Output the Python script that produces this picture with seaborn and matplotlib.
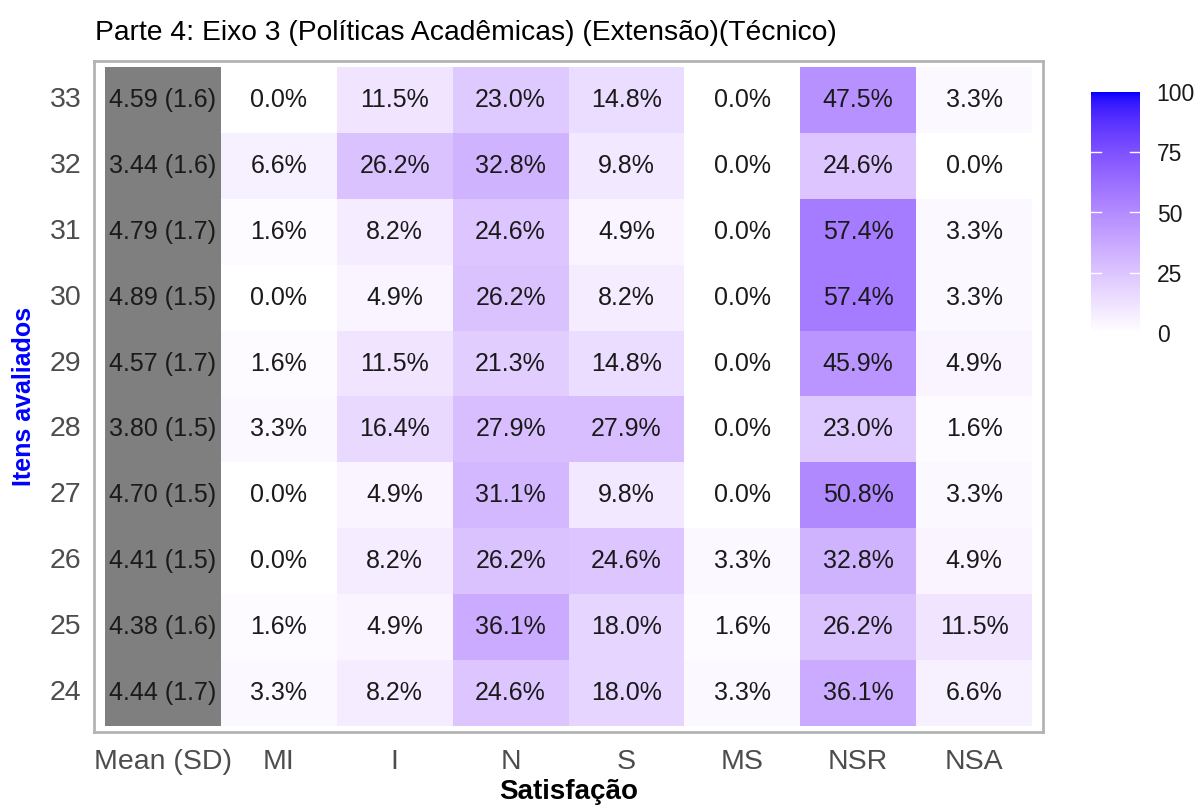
import numpy as np
import pandas as pd
import matplotlib
matplotlib.use("Agg")
import matplotlib.pyplot as plt
from matplotlib.colors import ListedColormap
import seaborn as sns

items = ["33", "32", "31", "30", "29", "28", "27", "26", "25", "24"]
categories = ["MI", "I", "N", "S", "MS", "NSR", "NSA"]
mean_sd = ["4.59 (1.6)", "3.44 (1.6)", "4.79 (1.7)", "4.89 (1.5)", "4.57 (1.7)",
           "3.80 (1.5)", "4.70 (1.5)", "4.41 (1.5)", "4.38 (1.6)", "4.44 (1.7)"]
MI = [0.0, 6.6, 1.6, 0.0, 1.6, 3.3, 0.0, 0.0, 1.6, 3.3]
I = [11.5, 26.2, 8.2, 4.9, 11.5, 16.4, 4.9, 8.2, 4.9, 8.2]
N = [23.0, 32.8, 24.6, 26.2, 21.3, 27.9, 31.1, 26.2, 36.1, 24.6]
S = [14.8, 9.8, 4.9, 8.2, 14.8, 27.9, 9.8, 24.6, 18.0, 18.0]
MS = [0.0, 0.0, 0.0, 0.0, 0.0, 0.0, 0.0, 3.3, 1.6, 3.3]
NSR = [47.5, 24.6, 57.4, 57.4, 45.9, 23.0, 50.8, 32.8, 26.2, 36.1]
NSA = [3.3, 0.0, 3.3, 3.3, 4.9, 1.6, 3.3, 4.9, 11.5, 6.6]

title = "Parte 4: Eixo 3 (Políticas Acadêmicas) (Extensão)(Técnico)"
xlabel = "Satisfação"
ylabel = "Itens avaliados"

# ---- Lab-interpolated white -> blue colormap (like ggplot2 scale_fill_gradient)
def srgb_to_lab(rgb):
    rgb = np.asarray(rgb, float)
    lin = np.where(rgb <= 0.04045, rgb / 12.92, ((rgb + 0.055) / 1.055) ** 2.4)
    M = np.array([[0.4124564, 0.3575761, 0.1804375],
                  [0.2126729, 0.7151522, 0.0721750],
                  [0.0193339, 0.1191920, 0.9503041]])
    xyz = M @ lin
    wp = np.array([0.95047, 1.0, 1.08883])
    t = xyz / wp
    f = np.where(t > (6 / 29) ** 3, np.cbrt(t), t / (3 * (6 / 29) ** 2) + 4 / 29)
    return np.array([116 * f[1] - 16, 500 * (f[0] - f[1]), 200 * (f[1] - f[2])])

def lab_to_srgb(lab):
    L, a, b = lab
    fy = (L + 16) / 116
    fx = fy + a / 500
    fz = fy - b / 200
    def finv(f):
        return np.where(f > 6 / 29, f ** 3, 3 * (6 / 29) ** 2 * (f - 4 / 29))
    wp = np.array([0.95047, 1.0, 1.08883])
    xyz = np.array([finv(fx), finv(fy), finv(fz)]) * wp
    Minv = np.array([[3.2404542, -1.5371385, -0.4985314],
                     [-0.9692660, 1.8760108, 0.0415560],
                     [0.0556434, -0.2040259, 1.0572252]])
    lin = Minv @ xyz
    lin = np.clip(lin, 0, 1)
    rgb = np.where(lin <= 0.0031308, 12.92 * lin, 1.055 * lin ** (1 / 2.4) - 0.055)
    return np.clip(rgb, 0, 1)

lab_w = srgb_to_lab([1, 1, 1])
lab_b = srgb_to_lab([0, 0, 1])
cols = [lab_to_srgb(lab_w + (lab_b - lab_w) * t) for t in np.linspace(0, 1, 256)]
cmap = ListedColormap(cols)

# ---- data frame
pct = pd.DataFrame({"MI": MI, "I": I, "N": N, "S": S, "MS": MS, "NSR": NSR, "NSA": NSA},
                   index=items)
full = pct.copy()
full.insert(0, "Mean (SD)", 0.0)
annot = np.empty(full.shape, dtype=object)
for r in range(len(items)):
    annot[r, 0] = mean_sd[r]
    for c, cat in enumerate(categories):
        annot[r, c + 1] = f"{pct.iloc[r, c]:.1f}%"

mask_pct = np.zeros(full.shape, bool)
mask_pct[:, 0] = True
mask_mean = ~mask_pct

plt.rcParams["font.family"] = ["Liberation Sans", "DejaVu Sans"]
fig = plt.figure(figsize=(12, 8.05), dpi=100)
ax = fig.add_axes([94 / 1200, 1 - 732 / 805, (1043 - 94) / 1200, (732 - 61) / 805])
cax = fig.add_axes([1091 / 1200, 1 - 333 / 805, 49 / 1200, 241 / 805])

cell_fs = 18
sns.heatmap(full, mask=mask_pct, cmap=cmap, vmin=0, vmax=100, annot=annot, fmt="",
            annot_kws={"fontsize": cell_fs, "color": "#1a1a1a"}, ax=ax, cbar_ax=cax,
            cbar_kws={"ticks": [0, 25, 50, 75, 100]})
sns.heatmap(full, mask=mask_mean, cmap=ListedColormap(["#7f7f7f"]), annot=annot, fmt="",
            annot_kws={"fontsize": cell_fs, "color": "#1a1a1a"}, ax=ax, cbar=False)

ax.set_xlim(-0.095, 8.095)
ax.set_ylim(10.09, -0.09)
for sp in ax.spines.values():
    sp.set_visible(True)
    sp.set_color("#b3b3b3")
    sp.set_linewidth(2.0)

ax.tick_params(axis="both", length=0, labelsize=20.5, labelcolor="#4d4d4d")
ax.tick_params(axis="x", pad=12, rotation=0)
ax.tick_params(axis="y", pad=9, rotation=0)
ax.set_xlabel(xlabel, fontsize=20, fontweight="bold", color="black", labelpad=3)
ax.set_ylabel(ylabel, fontsize=18, fontweight="bold", color="blue", labelpad=10)

cbar = ax.collections[0].colorbar
cbar.outline.set_visible(False)
cax.tick_params(axis="y", length=0, labelsize=16.5, labelcolor="#1a1a1a", pad=12)
for v in [25, 50, 75]:
    cax.plot([0, 0.2], [v, v], color="white", lw=1, transform=cax.get_yaxis_transform())
    cax.plot([0.8, 1.0], [v, v], color="white", lw=1, transform=cax.get_yaxis_transform())

fig.text(95 / 1200, 1 - 33 / 805, title, fontsize=20.3, ha="left", va="center", color="black")

fig.savefig("out.png", dpi=100)
